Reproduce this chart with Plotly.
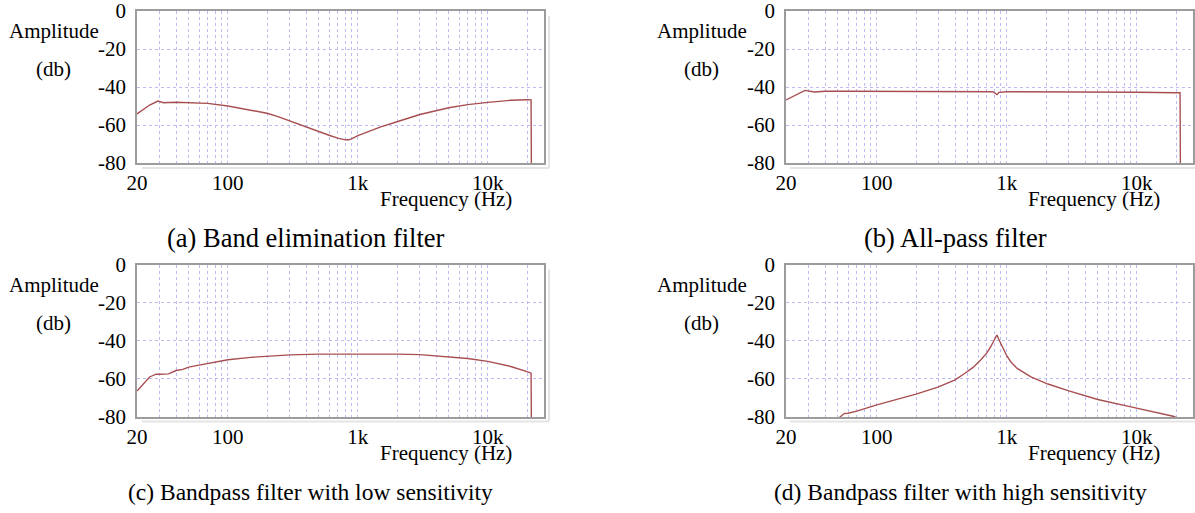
import math
import plotly.graph_objects as go

W, H = 1195, 513

# ---------------- data ----------------
freq_a = [20, 25, 29, 32, 40, 50, 70, 100, 150, 200, 240, 300, 400, 500, 600, 700, 800, 850, 900,
          1000, 1200, 1500, 2000, 3000, 5000, 7000, 10000, 15000, 20000, 21500, 21600]
db_a = [-54.2, -49.5, -47.4, -48.3, -48.0, -48.1, -48.6, -50.0, -52.0, -53.8, -55.5, -58.0, -61.0,
        -63.5, -65.4, -66.9, -67.8, -67.8, -67.2, -65.6, -63.5, -61.0, -58.3, -54.5, -50.9, -49.3,
        -48.1, -47.0, -46.7, -46.8, -80.0]

freq_b = [20, 24, 28, 33, 40, 60, 100, 200, 500, 780, 840, 870, 1000, 2000, 5000, 10000, 20000, 21500, 21600]
db_b = [-46.8, -44.0, -41.8, -42.6, -42.2, -42.2, -42.3, -42.3, -42.4, -42.5, -44.0, -42.8, -42.5,
        -42.5, -42.6, -42.8, -43.0, -43.0, -80.0]

freq_c = [20, 25, 28, 30, 35, 40, 45, 50, 60, 70, 80, 100, 150, 200, 300, 500, 1000, 2000, 3000,
          5000, 7000, 10000, 15000, 20000, 21500, 21600]
db_c = [-66.4, -59.0, -57.5, -57.6, -57.4, -55.6, -55.0, -53.8, -52.8, -52.0, -51.2, -50.0, -48.7,
        -48.0, -47.4, -47.0, -46.9, -47.0, -47.3, -48.3, -49.3, -50.8, -53.5, -56.2, -57.0, -80.0]

freq_d = [50, 53, 56, 60, 70, 100, 145, 200, 295, 400, 473, 550, 631, 700, 753, 800, 838, 870, 930,
          1000, 1070, 1200, 1530, 2070, 3000, 3700, 5000, 9000, 15000, 19000, 20500]
db_d = [-81.0, -79.3, -78.2, -78.0, -76.9, -73.6, -70.7, -68.0, -64.3, -60.5, -57.2, -54.0, -50.0,
        -46.5, -43.0, -40.0, -37.0, -39.5, -43.5, -48.0, -51.0, -54.5, -58.9, -62.7, -66.3, -68.0,
        -70.8, -74.7, -78.0, -79.6, -80.5]

tick_label_map = {20: "20", 100: "100", 1000: "1k", 10000: "10k"}
y_tick_vals = [0, -20, -40, -60, -80]
y_tick_text = ["0", "-20", "-40", "-60", "-80"]

captions = ["(a) Band elimination filter", "(b) All-pass filter",
            "(c) Bandpass filter with low sensitivity", "(d) Bandpass filter with high sensitivity"]

# ---------------- layout helpers ----------------
FONT = "Times New Roman, Liberation Serif, DejaVu Serif, serif"
grid_vals = [d * 10 ** e for e in (1, 2, 3, 4) for d in range(1, 10) if 20 <= d * 10 ** e <= 20000]
grid_text = [tick_label_map.get(v, "") for v in grid_vals]


def px(x):
    return x / W


def py(y):
    return 1 - y / H


xdoms = [[px(137), px(544)], [px(786), px(1193)]]
ydoms = [[py(163), py(11)], [py(417), py(264.5)]]
xrange_ = [math.log10(20), math.log10(20) + 407 / 130]

series = [(freq_a, db_a), (freq_b, db_b), (freq_c, db_c), (freq_d, db_d)]

fig = go.Figure()
layout = dict(width=W, height=H, margin=dict(l=0, r=0, t=0, b=0, autoexpand=False),
              paper_bgcolor="white", plot_bgcolor="white", showlegend=False,
              font=dict(family=FONT, color="black"),
              annotations=[], shapes=[])

for i, (fx, fy) in enumerate(series):
    col, row = i % 2, i // 2
    n = "" if i == 0 else str(i + 1)
    fig.add_trace(go.Scatter(x=fx, y=fy, mode="lines", xaxis="x" + n, yaxis="y" + n,
                             line=dict(color="#a84e50", width=1.4), hoverinfo="skip"))
    common = dict(showgrid=True, gridcolor="#bcbcf2", griddash="dot", gridwidth=1,
                  showline=True, mirror=True, linecolor="#9c9c9c", linewidth=1.5,
                  ticks="", zeroline=False, automargin=False, ticklabeloverflow="allow",
                  tickfont=dict(family=FONT, size=21, color="black"))
    layout["xaxis" + n] = dict(common, type="log", range=xrange_, domain=xdoms[col],
                               anchor="y" + n, tickvals=grid_vals, ticktext=grid_text,
                               ticklabelstandoff=0)
    layout["yaxis" + n] = dict(common, range=[-80, 0], domain=ydoms[row], anchor="x" + n,
                               tickvals=y_tick_vals, ticktext=y_tick_text, ticklabelstandoff=5)

    dx = col * 648
    dy = row * 253.5
    # soft shadow frame
    l, r = 137 + dx, 544 + dx
    t, b = 11 + dy, 163 + dy
    layout["shapes"].append(dict(type="line", xref="paper", yref="paper",
                                 x0=px(r + 5), x1=px(r + 5), y0=py(t + 5), y1=py(b + 5),
                                 line=dict(color="#e4e4e4", width=2)))
    layout["shapes"].append(dict(type="line", xref="paper", yref="paper",
                                 x0=px(l + 5), x1=px(r + 5), y0=py(b + 5), y1=py(b + 5),
                                 line=dict(color="#e4e4e4", width=2)))

    def ann(text, x, y, size=21, xanchor="center"):
        layout["annotations"].append(dict(text=text, x=px(x), y=py(y), xref="paper", yref="paper",
                                          showarrow=False, xanchor=xanchor, yanchor="middle",
                                          font=dict(family=FONT, size=size, color="black")))

    ann("Amplitude", 54 + dx, 31 + dy)
    ann("(db)", 53 + dx, 69 + dy)
    ann("Frequency (Hz)", 446 + dx, 199 + dy)
    if row == 0:
        ann(captions[i], 306 if col == 0 else 955, 238, size=26.5)
    else:
        ann(captions[i], 310 if col == 0 else 960, 492, size=23.5)

fig.update_layout(layout)
fig.write_html("out.html")
